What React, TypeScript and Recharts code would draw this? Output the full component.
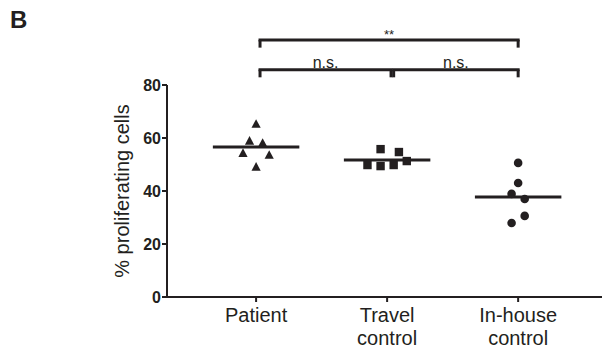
import React from "react";
import {
  ComposedChart,
  Scatter,
  XAxis,
  YAxis,
  ReferenceLine,
} from "recharts";

const groups = ["Patient", "Travel\ncontrol", "In-house\ncontrol"];

// % proliferating cells per subject, with horizontal spread (in group units)
const patientValues = [65.3, 58.9, 58.1, 54.3, 53.6, 49.1];
const patientSpread = [0, -0.05, 0.05, -0.1, 0.1, 0];
const travelValues = [55.8, 54.7, 51.3, 49.8, 49.4, 49.8];
const travelSpread = [-0.05, 0.09, 0.15, -0.15, -0.05, 0.05];
const inhouseValues = [50.6, 43.0, 38.9, 37.0, 30.6, 27.9];
const inhouseSpread = [0, 0, -0.05, 0.05, 0.05, -0.05];

const groupMeans = [56.6, 51.7, 37.7];
const yTicks = [0, 20, 40, 60, 80];

const comparisons = [
  { from: 1.03, to: 3.0, level: 97, label: "**" },
  { from: 1.03, to: 2.03, level: 85.8, label: "n.s." },
  { from: 2.05, to: 3.0, level: 85.8, label: "n.s." },
];

const INK = "#231f20";
const FONT = '"Liberation Sans", Arial, Helvetica, sans-serif';

const toPoints = (vals: number[], spread: number[], g: number) =>
  vals.map((v, i) => ({ x: g + spread[i], y: v }));

const Triangle = (p: any) => (
  <polygon
    points={`${p.cx},${p.cy - 4.8} ${p.cx + 4.6},${p.cy + 3.8} ${p.cx - 4.6},${p.cy + 3.8}`}
    fill={INK}
  />
);
const Square = (p: any) => (
  <rect x={p.cx - 4.2} y={p.cy - 4.2} width={8.4} height={8.4} fill={INK} />
);
const Dot = (p: any) => <circle cx={p.cx} cy={p.cy} r={4.3} fill={INK} />;

const GroupTick = (p: any) => {
  const lines = groups[p.payload.value - 1].split("\n");
  return (
    <text
      x={p.x}
      y={p.y}
      textAnchor="middle"
      fontFamily={FONT}
      fontSize={20}
      fill={INK}
    >
      {lines.map((l, i) => (
        <tspan key={i} x={p.x} dy={i === 0 ? 20 : 22.5}>
          {l}
        </tspan>
      ))}
    </text>
  );
};

const YTitle = (p: any) => {
  const vb = p.viewBox;
  const x = vb.x + vb.width - 45;
  const y = vb.y + vb.height / 2;
  return (
    <text
      x={x}
      y={y}
      transform={`rotate(-90 ${x} ${y})`}
      textAnchor="middle"
      dominantBaseline="central"
      fontFamily={FONT}
      fontSize={20}
      fill={INK}
    >
      % proliferating cells
    </text>
  );
};

export default function App() {
  const bracketLines: React.ReactNode[] = [];
  comparisons.forEach((c, i) => {
    bracketLines.push(
      <ReferenceLine
        key={`h${i}`}
        segment={[
          { x: c.from, y: c.level },
          { x: c.to, y: c.level },
        ]}
        stroke={INK}
        strokeWidth={3}
        strokeLinecap="square"
        ifOverflow="visible"
        label={{
          value: c.label,
          position: "top",
          offset: c.label === "**" ? 1 : 2,
          fill: INK,
          fontSize: c.label === "**" ? 13 : 16,
          fontFamily: FONT,
        }}
      />,
      <ReferenceLine
        key={`l${i}`}
        segment={[
          { x: c.from, y: c.level },
          { x: c.from, y: c.level - 2.9 },
        ]}
        stroke={INK}
        strokeWidth={3}
        ifOverflow="visible"
      />,
      <ReferenceLine
        key={`r${i}`}
        segment={[
          { x: c.to, y: c.level },
          { x: c.to, y: c.level - 2.9 },
        ]}
        stroke={INK}
        strokeWidth={3}
        ifOverflow="visible"
      />
    );
  });

  return (
    <div style={{ position: "absolute", left: 0, top: 0, width: 602, height: 350, background: "#fff" }}>
      <div
        style={{
          position: "absolute",
          left: 10,
          top: 6,
          fontFamily: FONT,
          fontWeight: "bold",
          fontSize: 24,
          color: INK,
        }}
      >
        B
      </div>
      <ComposedChart
        width={602}
        height={350}
        margin={{ top: 85, right: 0, bottom: 0, left: 0 }}
        style={{ position: "absolute", left: 0, top: 0 }}
      >
        <XAxis
          type="number"
          dataKey="x"
          domain={[0.32, 3.64]}
          ticks={[1, 2, 3]}
          allowDataOverflow
          height={53}
          tickSize={5}
          tickMargin={0}
          tick={<GroupTick />}
          axisLine={{ stroke: INK, strokeWidth: 2 }}
          tickLine={{ stroke: INK, strokeWidth: 2 }}
        />
        <YAxis
          type="number"
          dataKey="y"
          domain={[0, 80]}
          ticks={yTicks}
          allowDataOverflow
          width={167}
          tickSize={5}
          tickMargin={1}
          tick={{ fill: INK, fontSize: 16, fontWeight: "bold", fontFamily: FONT }}
          axisLine={{ stroke: INK, strokeWidth: 2 }}
          tickLine={{ stroke: INK, strokeWidth: 2 }}
          label={{ content: (p: any) => <YTitle {...p} /> }}
        />
        {groupMeans.map((m, i) => (
          <ReferenceLine
            key={`m${i}`}
            segment={[
              { x: i + 1 - 0.33, y: m },
              { x: i + 1 + 0.33, y: m },
            ]}
            stroke={INK}
            strokeWidth={3}
            ifOverflow="visible"
          />
        ))}
        <Scatter
          data={toPoints(patientValues, patientSpread, 1)}
          shape={Triangle}
          isAnimationActive={false}
        />
        <Scatter
          data={toPoints(travelValues, travelSpread, 2)}
          shape={Square}
          isAnimationActive={false}
        />
        <Scatter
          data={toPoints(inhouseValues, inhouseSpread, 3)}
          shape={Dot}
          isAnimationActive={false}
        />
        {bracketLines}
      </ComposedChart>
    </div>
  );
}
